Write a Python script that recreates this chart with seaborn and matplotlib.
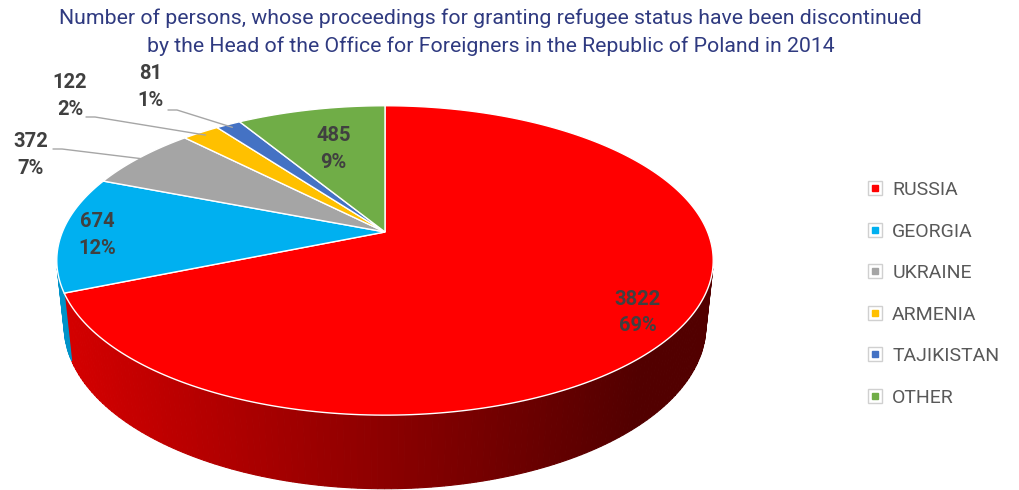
import numpy as np
import matplotlib
matplotlib.use("Agg")
import matplotlib.pyplot as plt
import seaborn as sns
from matplotlib import transforms as mtransforms
from matplotlib.path import Path
from matplotlib.lines import Line2D
from matplotlib.legend_handler import HandlerTuple

# ---------------- data ----------------
countries = ["RUSSIA", "GEORGIA", "UKRAINE", "ARMENIA", "TAJIKISTAN", "OTHER"]
persons = [3822, 674, 372, 122, 81, 485]
colors = ["#FF0000", "#00B0F0", "#A5A5A5", "#FFC000", "#4472C4", "#70AD47"]
title = ("Number of persons, whose proceedings for granting refugee status have been discontinued\n"
         "by the Head of the Office for Foreigners in the Republic of Poland in 2014")

# ---------------- style ----------------
sns.set_style("white")
plt.rcParams["font.family"] = ["Roboto", "DejaVu Sans"]

# ---------------- 3D projection (pixel space) ----------------
CX, CY = 385.0, 232.0
ELEV = np.radians(27.6)
COS_E, SIN_E = np.cos(ELEV), np.sin(ELEV)
DIST = 4.82
FOC = 1555.0
DEPTH = 0.23


def project(X, Y, Z=0.0):
    X = np.asarray(X, float)
    Y = np.asarray(Y, float)
    d = DIST + Y * COS_E - Z * SIN_E
    sx = CX + FOC * X / d
    sy = CY - FOC * (Y * SIN_E + Z * COS_E) / d
    return sx, sy


class Persp(mtransforms.Transform):
    input_dims = 2
    output_dims = 2
    is_separable = False
    has_inverse = False

    def __init__(self, z=0.0):
        super().__init__()
        self.z = z

    def transform_non_affine(self, values):
        v = np.asarray(values, float).reshape(-1, 2)
        sx, sy = project(v[:, 0], v[:, 1], self.z)
        return np.column_stack([sx, sy])

    def transform_path_non_affine(self, path):
        pts = []
        for seg, code in path.iter_bezier():
            if code in (Path.CURVE3, Path.CURVE4):
                t = np.linspace(0, 1, 30)
            else:
                t = np.array([0.0, 1.0])
            pts.append(seg(t))
        verts = np.concatenate(pts)
        return Path(self.transform_non_affine(verts), closed=True)


fig = plt.figure(figsize=(10.2, 4.9), dpi=100)
ax = fig.add_axes([0, 0, 1, 1])

wedges, _ = ax.pie(persons, colors=colors, startangle=90, counterclock=False,
                   radius=1, center=(0, 0),
                   wedgeprops=dict(edgecolor="white", linewidth=1.0))
ax.set_aspect("auto")
ax.set_xlim(0, 1020)
ax.set_ylim(490, 0)
ax.axis("off")

persp = Persp(0.0)
for w in wedges:
    w.set_transform(persp + ax.transData)
    w.set_zorder(3)

# ---------------- side wall ----------------
vis = np.degrees(np.arcsin(-1.0 / (DIST * COS_E)))  # negative angle
vis_lo, vis_hi = 180 - vis, 360 + vis


def shade(x):
    return np.clip(0.84 - 0.54 * (x - 60) / 600.0, 0.32, 0.84)


for w, c in zip(wedges, colors):
    rgb = np.array(matplotlib.colors.to_rgb(c))
    for shift in (-360, 0, 360):
        lo = max(w.theta1 + shift, vis_lo)
        hi = min(w.theta2 + shift, vis_hi)
        if hi <= lo:
            continue
        n = max(2, int(np.ceil(hi - lo)) + 1)
        edges = np.linspace(lo, hi, n)
        for a, b in zip(edges[:-1], edges[1:]):
            tt = np.radians(np.linspace(a, b, 4))
            xt, yt = project(np.cos(tt), np.sin(tt), 0.0)
            xb, yb = project(np.cos(tt[::-1]), np.sin(tt[::-1]), -DEPTH)
            xs = np.concatenate([xt, xb])
            ys = np.concatenate([yt, yb])
            col = rgb * shade(xs.mean())
            ax.fill(xs, ys, color=col, lw=0.8, zorder=2)

# ---------------- labels ----------------
total = sum(persons)
pcts = [f"{round(100 * v / total)}%" for v in persons]
mids = [np.radians((w.theta1 + w.theta2) / 2) for w in wedges]
lab_col = "#404040"
lab_kw = dict(ha="center", va="center", fontsize=14.5, fontweight="bold",
              color=lab_col, linespacing=1.5, zorder=5)

inside_r = {0: 0.86, 1: 0.89, 5: 0.66}
for i, r in inside_r.items():
    x, y = project(r * np.cos(mids[i]), r * np.sin(mids[i]))
    ax.text(float(x), float(y) + 2, f"{persons[i]}\n{pcts[i]}", **lab_kw)

# outside labels: (text centre), (leader start)
outside = {2: ((31, 155), (53, 149)),
           3: ((70, 96), (86, 117)),
           4: ((151, 87), (168, 110))}
for i, (tpos, lstart) in outside.items():
    ax.text(tpos[0], tpos[1], f"{persons[i]}\n{pcts[i]}", **lab_kw)
    ex, ey = project(0.97 * np.cos(mids[i]), 0.97 * np.sin(mids[i]))
    ax.plot([lstart[0], lstart[0] + 9, float(ex)],
            [lstart[1], lstart[1], float(ey)],
            color="#A6A6A6", lw=1.0, zorder=4)

# ---------------- title ----------------
fig.text(0.481, 0.982, title, ha="center", va="top", fontsize=15.3,
         color="#2F3A80", linespacing=1.5)

# ---------------- legend ----------------
handles = [(Line2D([], [], marker="s", ms=10, mfc="white", mec="#D0D0D0", mew=1.0, ls=""),
            Line2D([], [], marker="s", ms=5, mfc=c, mec=c, ls=""))
           for c in colors]
leg = ax.legend(handles, countries, handler_map={tuple: HandlerTuple(ndivide=1, pad=0)},
                loc="upper left", bbox_to_anchor=(866 / 1020, 1 - 181 / 490),
                bbox_transform=fig.transFigure, frameon=False, fontsize=14,
                labelcolor="#595959", handlelength=0.9, handletextpad=0.45,
                labelspacing=1.21, borderaxespad=0, borderpad=0)

fig.savefig("out.png", dpi=100)
